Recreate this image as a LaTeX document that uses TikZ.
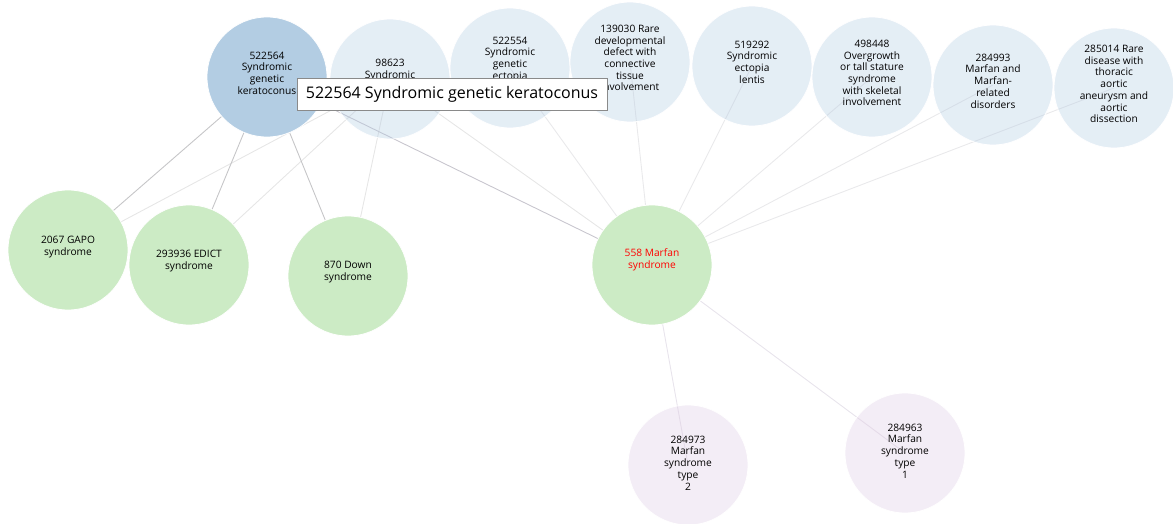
\documentclass[tikz,border=0pt]{standalone}
\usepackage{fontspec}
\setmainfont{Open Sans}
\pgfdeclarelayer{edges}
\pgfdeclarelayer{front}
\pgfsetlayers{edges,main,front}
\definecolor{blueA}{HTML}{B3CDE3}
\definecolor{greenA}{HTML}{CCEBC5}
\definecolor{purpleA}{HTML}{DECBE4}
\definecolor{edgeDark}{HTML}{C6C6C8}
\definecolor{edgeMid}{HTML}{C8C6CE}
\definecolor{edgeLight}{HTML}{E6E6E6}
\definecolor{edgePale}{HTML}{E9E9EB}
\definecolor{edgeLilac}{HTML}{E8E4EC}
\definecolor{tipBorder}{HTML}{8A8A8A}
\tikzset{
  disc/.style={circle, minimum size=120pt, inner sep=0pt, draw=white, line width=0.8pt},
  focus/.style={disc, fill=blueA},
  parent/.style={disc, fill=blueA, fill opacity=0.35},
  sibling/.style={disc, fill=greenA},
  child/.style={disc, fill=purpleA, fill opacity=0.35},
  lbl/.style={align=center, inner sep=0pt, text=black,
    font=\fontsize{10.2}{11.7}\selectfont},
  link/.style={line width=0.9pt},
  tip/.style={draw=tipBorder, fill=white, line width=0.8pt, inner sep=0pt,
    minimum width=310pt, minimum height=32pt,
    font=\fontsize{16}{18}\selectfont}
}
\begin{document}
\begin{tikzpicture}[x=1pt, y=-1pt]
\useasboundingbox (0,0) rectangle (1173,524);
% circles
\node[focus]   (c522564) at (267,77)  {};
\node[parent]  (c98623)  at (390,79)  {};
\node[parent]  (c522554) at (510,68)  {};
\node[parent]  (c139030) at (630,62)  {};
\node[parent]  (c519292) at (752,66)  {};
\node[parent]  (c498448) at (872,77)  {};
\node[parent]  (c284993) at (993,85)  {};
\node[parent]  (c285014) at (1114,88) {};
\node[sibling] (cGAPO)   at (68,250)  {};
\node[sibling] (cEDICT)  at (189,265) {};
\node[sibling] (cDown)   at (348,276) {};
\node[sibling] (c558)    at (652,265) {};
\node[child]   (c284973) at (688,465) {};
\node[child]   (c284963) at (905,453) {};
% labels
\node[lbl] (t522564) at ([yshift=4pt]c522564.center) {522564\\Syndromic\\genetic\\keratoconus};
\node[lbl] (t98623)  at ([yshift=4pt]c98623.center)  {98623\\Syndromic\\\phantom{x}};
\node[lbl] (t522554) at ([yshift=4pt]c522554.center) {522554\\Syndromic\\genetic\\ectopia\\\phantom{x}};
\node[lbl] (t139030) at ([yshift=4pt]c139030.center) {139030 Rare\\developmental\\defect with\\connective\\tissue\\involvement};
\node[lbl] (t519292) at ([yshift=4pt]c519292.center) {519292\\Syndromic\\ectopia\\lentis};
\node[lbl] (t498448) at ([yshift=4pt]c498448.center) {498448\\Overgrowth\\or tall stature\\syndrome\\with skeletal\\involvement};
\node[lbl] (t284993) at ([yshift=4pt]c284993.center) {284993\\Marfan and\\Marfan-\\related\\disorders};
\node[lbl] (t285014) at ([yshift=4pt]c285014.center) {285014 Rare\\disease with\\thoracic\\aortic\\aneurysm and\\aortic\\dissection};
\node[lbl] (tGAPO)   at ([yshift=3pt]cGAPO.center)   {2067 GAPO\\syndrome};
\node[lbl] (tEDICT)  at ([yshift=4pt]cEDICT.center)  {293936 EDICT\\syndrome};
\node[lbl] (tDown)   at ([yshift=4pt]cDown.center)   {870 Down\\syndrome};
\node[lbl, text=red] (t558) at ([yshift=5pt]c558.center) {558 Marfan\\syndrome};
\node[lbl] (t284973) at ([yshift=2pt]c284973.center) {284973\\Marfan\\syndrome\\type\\2};
\node[lbl] (t284963) at ([yshift=2pt]c284963.center) {284963\\Marfan\\syndrome\\type\\1};
% connectors
\begin{pgfonlayer}{edges}
  \foreach \p in {c522554,c139030,c519292,c498448,c284993,c285014}
    \draw[link, edgePale] (\p.center) -- (c558.center);
  \foreach \s in {cGAPO,cEDICT,cDown,c558}
    \draw[link, edgeLight] (c98623.center) -- (\s.center);
  \draw[link, edgeLilac] (c558.center) -- (c284973.center);
  \draw[link, edgeLilac] (c558.center) -- (c284963.center);
  \foreach \s in {cGAPO,cEDICT,cDown}
    \draw[link, edgeDark] (c522564.center) -- (\s.center);
  \draw[link, edgeMid] (c522564.center) -- (c558.center);
\end{pgfonlayer}
% hover box
\begin{pgfonlayer}{front}
  \node[tip] (tooltip) at (452,94) {522564 Syndromic genetic keratoconus};
\end{pgfonlayer}
\end{tikzpicture}
\end{document}
